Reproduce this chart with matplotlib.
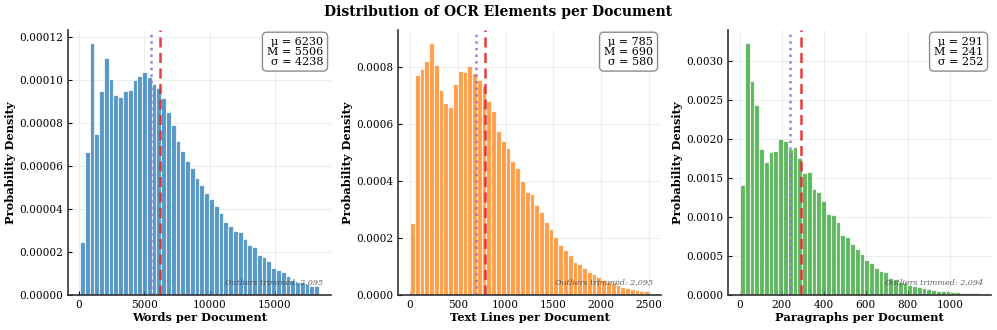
import numpy as np
import matplotlib.pyplot as plt

plt.rcParams["font.family"] = ["DejaVu Serif"]

# Histogram densities (50 bins each)
words_density = np.array([
    2.46, 6.67, 11.76, 7.48, 9.50, 11.06, 10.08, 9.32, 9.21, 9.50,
    9.56, 10.03, 10.19, 10.40, 10.16, 9.84, 9.66, 9.19, 8.54, 7.92,
    7.17, 6.73, 6.25, 5.93, 5.43, 5.15, 4.74, 4.46, 4.14, 3.83,
    3.39, 3.23, 3.00, 2.95, 2.61, 2.35, 2.25, 1.88, 1.76, 1.60,
    1.24, 1.18, 1.06, 0.90, 0.72, 0.62, 0.59, 0.51, 0.44, 0.40,
]) * 1e-5
words_range = (77, 18385)

lines_density = np.array([
    2.53, 7.71, 7.93, 8.20, 8.84, 8.04, 7.18, 6.71, 6.58, 7.39,
    7.85, 7.80, 8.02, 7.79, 7.54, 7.31, 6.78, 6.46, 5.75, 5.41,
    5.16, 4.69, 4.45, 3.99, 3.62, 3.53, 3.17, 2.90, 2.55, 2.33,
    2.03, 1.75, 1.57, 1.40, 1.17, 1.09, 0.93, 0.81, 0.74, 0.63,
    0.54, 0.46, 0.41, 0.35, 0.29, 0.26, 0.22, 0.18, 0.15, 0.14,
]) * 1e-4
lines_range = (1, 2500)

paras_density = np.array([
    14.03, 32.32, 27.38, 24.33, 18.76, 17.08, 18.37, 18.41, 19.96, 19.70,
    18.67, 18.93, 17.60, 15.67, 15.71, 13.52, 13.13, 12.10, 10.43, 10.21,
    9.36, 7.64, 7.38, 6.52, 5.92, 5.28, 4.46, 4.16, 3.48, 3.13,
    2.92, 2.19, 2.02, 1.72, 1.50, 1.29, 1.20, 0.99, 0.86, 0.77,
    0.64, 0.56, 0.52, 0.47, 0.39, 0.34, 0.30, 0.26, 0.21, 0.21,
]) * 1e-4
paras_range = (1, 1140)

means = [6230, 785, 291]
medians = [5506, 690, 241]
stds = [4238, 580, 252]
trimmed = ["2,095", "2,095", "2,094"]
xlabels = ["Words per Document", "Text Lines per Document", "Paragraphs per Document"]
colors = ["#1f77b4", "#ff7f0e", "#2ca02c"]

panels = [
    (words_density, words_range),
    (lines_density, lines_range),
    (paras_density, paras_range),
]

fig = plt.figure(figsize=(9.97, 3.3), dpi=100)
lefts = [0.0682, 0.3992, 0.7302]

for i, (dens, (lo, hi)) in enumerate(panels):
    ax = fig.add_axes([lefts[i], 0.106, 0.2638, 0.803])
    edges = np.linspace(lo, hi, len(dens) + 1)
    ax.bar(
        edges[:-1], dens, width=np.diff(edges), align="edge",
        color=colors[i], alpha=0.75, edgecolor="white", linewidth=0.8,
    )
    ax.axvline(means[i], color="#e0282e", linestyle="--", linewidth=1.8,
               dashes=(4, 2.2), alpha=0.9)
    ax.axvline(medians[i], color="#9370db", linestyle=":", linewidth=1.8,
               alpha=0.9)

    ax.text(
        0.97, 0.975,
        f"μ = {means[i]}\nM = {medians[i]}\nσ = {stds[i]}",
        transform=ax.transAxes, ha="right", va="top", fontsize=8,
        multialignment="right", linespacing=1.0,
        bbox=dict(boxstyle="round,pad=0.4", facecolor="white",
                  edgecolor="gray", alpha=0.9),
    )
    ax.text(
        0.97, 0.035, f"Outliers trimmed: {trimmed[i]}",
        transform=ax.transAxes, ha="right", va="bottom", fontsize=5.8,
        style="italic", color="#444444", alpha=0.85,
    )

    ax.set_xlabel(xlabels[i], fontsize=8.2, fontweight="bold", labelpad=1.5)
    ax.set_ylabel("Probability Density", fontsize=8.2, fontweight="bold",
                  labelpad=2.5)
    ax.tick_params(direction="in", labelsize=7.6, length=3)
    ax.grid(True, color="#dddddd", alpha=0.5, linewidth=0.8)
    ax.set_axisbelow(True)
    for side in ["top", "right"]:
        ax.spines[side].set_visible(False)
    for side in ["left", "bottom"]:
        ax.spines[side].set_color("#333333")
        ax.spines[side].set_linewidth(1.2)

fig.suptitle("Distribution of OCR Elements per Document", fontsize=10,
             fontweight="bold", y=0.985)

fig.savefig("out.png", dpi=100)
